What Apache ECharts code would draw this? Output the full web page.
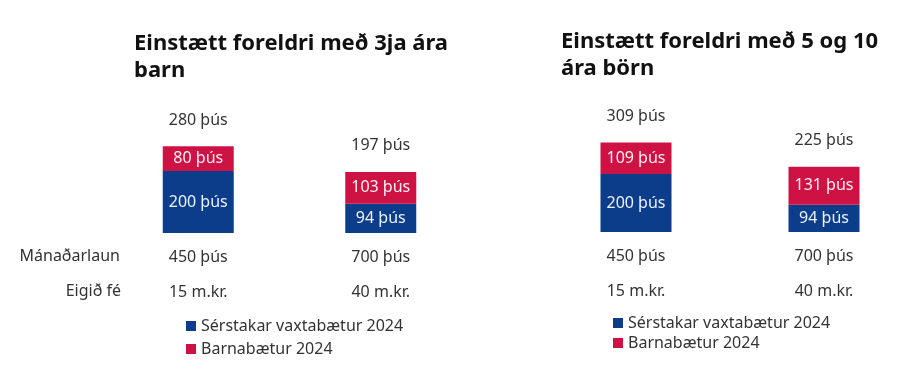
<!DOCTYPE html>
<html>
<head>
<meta charset="utf-8">
<script src="https://cdn.jsdelivr.net/npm/echarts@6/dist/echarts.min.js"></script>
<style>html,body{margin:0;padding:0;background:#fff}#c{width:900px;height:373px}</style>
</head>
<body>
<div id="c"></div>
<script>
const salaries = ['450 þús', '700 þús'];
const equity = ['15 m.kr.', '40 m.kr.'];
const interestA = [200, 94];   // Sérstakar vaxtabætur 2024, 3ja ára barn
const childA = [80, 103];      // Barnabætur 2024, 3ja ára barn
const interestB = [200, 94];   // Sérstakar vaxtabætur 2024, 5 og 10 ára börn
const childB = [109, 131];     // Barnabætur 2024, 5 og 10 ára börn
const titleA = 'Einstætt foreldri með 3ja ára\nbarn';
const titleB = 'Einstætt foreldri með 5 og 10\nára börn';
const rowLabels = ['Mánaðarlaun', 'Eigið fé'];
const nameInterest = 'Sérstakar vaxtabætur 2024';
const nameChild = 'Barnabætur 2024';

const BLUE = '#0c3d8a';
const RED = '#cf1244';
const FONT = 'Noto Sans';
const cats = salaries.map((s, i) => s + '\n' + equity[i]);

function fmt(v) { return v + ' þús'; }

function panelSeries(idx, interest, child) {
  return [
    {
      name: nameInterest, type: 'bar', stack: 's' + idx, xAxisIndex: idx, yAxisIndex: idx,
      data: interest, barWidth: 71, itemStyle: { color: BLUE },
      label: { show: true, position: 'inside', color: '#eef2ff', fontFamily: FONT, fontSize: 16,
        formatter: p => fmt(p.value) }
    },
    {
      name: nameChild, type: 'bar', stack: 's' + idx, xAxisIndex: idx, yAxisIndex: idx,
      data: child, barWidth: 71, itemStyle: { color: RED },
      label: { show: true, position: 'inside', color: '#fff0f4', fontFamily: FONT, fontSize: 16,
        formatter: p => fmt(p.value) }
    },
    {
      name: 'total' + idx, type: 'bar', stack: 's' + idx, xAxisIndex: idx, yAxisIndex: idx,
      data: interest.map(() => 0), barWidth: 71, itemStyle: { color: 'transparent' },
      label: { show: true, position: 'top', distance: 18, color: '#333', fontFamily: FONT, fontSize: 16,
        formatter: p => fmt(interest[p.dataIndex] + child[p.dataIndex]) }
    }
  ];
}

const xAxisCommon = {
  type: 'category', data: cats,
  axisLine: { show: false }, axisTick: { show: false },
  axisLabel: { margin: 7, color: '#333', fontFamily: FONT, fontSize: 16, lineHeight: 35 }
};
const yAxisCommon = { type: 'value', min: 0, max: 400, show: false, splitLine: { show: false } };

const chart = echarts.init(document.getElementById('c'), null, { renderer: 'canvas' });
chart.setOption({
  animation: false,
  backgroundColor: '#fff',
  title: [
    { text: titleA, left: 129, top: 25, textStyle: { fontFamily: FONT, fontWeight: 'bold', fontSize: 22, color: '#111', lineHeight: 27 } },
    { text: titleB, left: 556, top: 23, textStyle: { fontFamily: FONT, fontWeight: 'bold', fontSize: 22, color: '#111', lineHeight: 27 } }
  ],
  legend: [
    { data: [nameInterest, nameChild], orient: 'vertical', left: 186, top: 318, itemGap: 7,
      icon: 'rect', itemWidth: 10, itemHeight: 10, itemTextGap: 4, selectedMode: false, padding: 0,
      textStyle: { fontFamily: FONT, fontSize: 16, color: '#333' } },
    { data: [nameInterest, nameChild], orient: 'vertical', left: 613, top: 315, itemGap: 4,
      icon: 'rect', itemWidth: 10, itemHeight: 10, itemTextGap: 4, selectedMode: false, padding: 0,
      textStyle: { fontFamily: FONT, fontSize: 16, color: '#333' } }
  ],
  grid: [
    { left: 107, width: 365, top: 109, bottom: 140, outerBoundsMode: 'none', containLabel: false },
    { left: 542, width: 376, top: 116, bottom: 141, outerBoundsMode: 'none', containLabel: false }
  ],
  xAxis: [ Object.assign({ gridIndex: 0 }, xAxisCommon), Object.assign({ gridIndex: 1 }, xAxisCommon) ],
  yAxis: [ Object.assign({ gridIndex: 0 }, yAxisCommon), Object.assign({ gridIndex: 1 }, yAxisCommon) ],
  graphic: [
    { type: 'text', right: 900 - 120, top: 248, style: { text: rowLabels[0], fill: '#333', font: '16px ' + FONT, textAlign: 'right' } },
    { type: 'text', right: 900 - 121, top: 283, style: { text: rowLabels[1], fill: '#333', font: '16px ' + FONT, textAlign: 'right' } }
  ],
  series: [].concat(panelSeries(0, interestA, childA), panelSeries(1, interestB, childB))
});
</script>
</body>
</html>
